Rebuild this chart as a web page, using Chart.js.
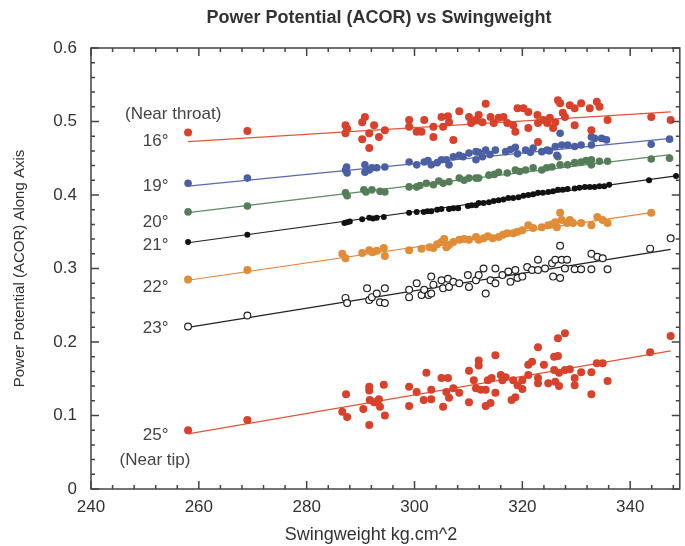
<!DOCTYPE html>
<html>
<head>
<meta charset="utf-8">
<script src="https://cdn.jsdelivr.net/npm/chart.js@4"></script>
<style>
  body { margin: 0; background: #fff; }
  #wrap { width: 685px; height: 546px; }
</style>
</head>
<body>
<div id="wrap"><canvas id="chart" width="685" height="546"></canvas></div>
<script>
// tick labels
const xTicks = [240, 260, 280, 300, 320, 340];
const yTicks = [0, 0.1, 0.2, 0.3, 0.4, 0.5, 0.6];

// series: [swingweight, ACOR]
const deg16 = [[258,0.485],[269,0.487],[287.2,0.495],[287.5,0.49],[287.2,0.484],[290.3,0.499],[290.8,0.506],[292.5,0.495],
  [291.6,0.484],[290.3,0.476],[291.6,0.464],[293.4,0.479],[294.5,0.488],[299,0.502],[299,0.493],[300.4,0.486],[301.8,0.502],
  [301.3,0.486],[303.5,0.493],[303.5,0.479],[305,0.506],[305.3,0.493],[306.2,0.507],[306.4,0.499],[308.3,0.514],[307.2,0.475],
  [310.1,0.506],[310.5,0.498],[311.4,0.502],[313.2,0.524],[311.9,0.509],[312.6,0.499],[314.1,0.506],[314.7,0.498],[315.6,0.505],
  [316.5,0.506],[317.2,0.498],[318.3,0.495],[318.7,0.486],[319.1,0.518],[320.2,0.518],[321.1,0.513],[321.1,0.491],[322.8,0.509],
  [322.9,0.472],[322.9,0.498],[323.9,0.502],[324.6,0.498],[325.1,0.505],[325.7,0.491],[326.1,0.499],[326.6,0.529],[327,0.525],
  [327.5,0.512],[327.9,0.506],[328.8,0.522],[329.7,0.495],[329.7,0.518],[330.9,0.525],[332.5,0.518],[332.8,0.488],[333.8,0.527],
  [334.3,0.52],[335.8,0.502],[343.9,0.506],[347.5,0.502]];
const deg19 = [[258,0.416],[269,0.423],[287.2,0.434],[287.5,0.43],[287.4,0.438],[290.8,0.441],[291.6,0.434],[290.8,0.431],
  [292.1,0.437],[293,0.437],[294.5,0.438],[299,0.445],[300.4,0.441],[301.8,0.445],[302.5,0.447],[303.1,0.441],[304.2,0.444],
  [305,0.448],[305.9,0.448],[306.4,0.441],[307.2,0.452],[308.3,0.454],[309,0.452],[310.1,0.457],[311.4,0.459],[311.4,0.448],
  [311.9,0.458],[312.6,0.452],[313.2,0.461],[314,0.455],[315,0.461],[316.9,0.459],[317.8,0.462],[318.7,0.465],[319.1,0.456],
  [320.6,0.461],[321.5,0.458],[322,0.464],[323.6,0.459],[324.6,0.461],[325,0.46],[326.1,0.466],[326.4,0.454],[327,0.484],
  [327.3,0.468],[328.4,0.468],[329.7,0.466],[330.9,0.468],[332.8,0.479],[332.8,0.468],[333.4,0.477],[334.7,0.477],[335.6,0.475],
  [343.9,0.469],[347.3,0.476]];
const deg20 = [[258,0.377],[269,0.385],[287.2,0.403],[287.5,0.399],[290.6,0.407],[291,0.404],[292.1,0.407],[293.6,0.405],
  [294.5,0.404],[299,0.411],[300.4,0.411],[301,0.413],[302.2,0.416],[303.5,0.414],[304.5,0.419],[305.3,0.416],[306.4,0.418],
  [308.3,0.423],[309.2,0.42],[310.1,0.423],[311.4,0.423],[311.9,0.423],[313.8,0.427],[314.8,0.428],[315.6,0.431],[317.2,0.43],
  [318.7,0.434],[319.5,0.432],[320.6,0.434],[322,0.437],[323.6,0.434],[324.5,0.437],[325.5,0.438],[326.6,0.452],[327,0.441],
  [328.4,0.441],[329.7,0.444],[330.9,0.445],[331.8,0.447],[332.8,0.448],[332.8,0.441],[334.3,0.446],[335.8,0.446],
  [343.9,0.449],[347.3,0.45]];
const deg21 = [[258,0.336],[269,0.346],[287,0.362],[287.5,0.363],[288,0.364],[290.3,0.367],[291.6,0.369],[292.3,0.368],
  [293,0.369],[294.3,0.37],[299,0.376],[300.4,0.377],[301.7,0.377],[302.4,0.378],[303.1,0.378],[304.2,0.38],[305,0.381],
  [306.4,0.381],[307.2,0.382],[308.1,0.382],[309.9,0.385],[310.6,0.386],[311.4,0.386],[311.9,0.389],[312.8,0.389],[313.8,0.39],
  [314.7,0.392],[315.6,0.393],[316.5,0.394],[317.4,0.396],[318.3,0.396],[319.3,0.397],[320.2,0.399],[321.1,0.4],[322,0.401],
  [322.9,0.403],[323.8,0.403],[324.8,0.404],[325.7,0.405],[326.6,0.407],[327.5,0.407],[328.4,0.408],[329.7,0.409],[330.6,0.41],
  [331.6,0.411],[332.5,0.411],[333.4,0.411],[334.3,0.412],[335.2,0.412],[336.1,0.414],[343.5,0.42],[348.5,0.426]];
const deg22 = [[258,0.285],[269,0.298],[286.6,0.32],[287.2,0.314],[290.3,0.321],[291.6,0.325],[292.2,0.322],[293,0.324],
  [294.3,0.328],[294.5,0.317],[299,0.325],[301.3,0.327],[302.8,0.329],[303.5,0.328],[304.2,0.333],[305,0.336],[305.5,0.34],
  [305.9,0.329],[306.4,0.332],[307.2,0.336],[308.3,0.339],[309.2,0.34],[310.1,0.339],[311.4,0.343],[311.9,0.339],[312.8,0.341],
  [313.6,0.344],[314.5,0.341],[315.6,0.343],[316.4,0.346],[317.2,0.348],[318.3,0.348],[319.1,0.35],[320,0.352],[321.1,0.359],
  [322,0.355],[323.6,0.356],[324.8,0.359],[325.5,0.36],[326.1,0.363],[326.4,0.356],[327,0.376],[327.3,0.366],[328.3,0.362],
  [328.8,0.366],[329.4,0.362],[330.9,0.362],[332.8,0.359],[333.9,0.37],[334.9,0.366],[335.8,0.362],[343.9,0.376]];
const deg23 = [[258,0.221],[269,0.236],[287.2,0.26],[287.5,0.253],[291.2,0.273],[291.6,0.257],[292.1,0.261],[293,0.266],
  [293.6,0.254],[294.5,0.273],[294.5,0.253],[299,0.271],[299,0.261],[300.4,0.28],[301.3,0.264],[301.8,0.271],[302.6,0.264],
  [303.1,0.266],[303.1,0.289],[303.5,0.278],[305,0.284],[305.3,0.273],[306.2,0.286],[306.4,0.275],[307.2,0.282],[308.3,0.28],
  [309.9,0.291],[310.1,0.275],[311.4,0.284],[311.9,0.291],[312.8,0.3],[313.2,0.266],[314.1,0.284],[315,0.3],[315,0.28],
  [316.3,0.291],[317.4,0.296],[317.8,0.282],[318.7,0.298],[319.1,0.287],[320,0.289],[320.9,0.302],[321.8,0.298],[322.9,0.312],
  [322.9,0.298],[324.2,0.3],[325.5,0.307],[325.7,0.289],[326.1,0.312],[327,0.331],[327,0.287],[327.3,0.312],[327.9,0.3],
  [328.3,0.312],[329.7,0.299],[330.9,0.299],[332.8,0.32],[332.8,0.299],[333.9,0.316],[334.9,0.314],[335.8,0.299],
  [343.7,0.327],[347.5,0.341]];
const deg25 = [[258,0.08],[269,0.094],[287.3,0.129],[286.6,0.105],[287.5,0.098],[290.5,0.109],[291.6,0.139],[291.6,0.134],
  [291.7,0.121],[291.6,0.087],[292.5,0.118],[293.4,0.122],[293.6,0.112],[294.3,0.142],[294.5,0.1],[299,0.139],[299,0.113],
  [300.4,0.132],[301.7,0.121],[302.2,0.158],[303.1,0.135],[303.1,0.122],[305,0.151],[305.3,0.112],[306.2,0.151],[305.9,0.132],
  [306.4,0.124],[307.2,0.137],[308.3,0.131],[310.1,0.161],[310.1,0.118],[311,0.148],[311.4,0.137],[311.9,0.175],[311.9,0.168],
  [312.3,0.135],[313.2,0.135],[313.2,0.113],[313.6,0.148],[314.1,0.117],[314.3,0.151],[315,0.182],[315,0.131],[316,0.155],
  [316.3,0.148],[316.9,0.152],[318,0.121],[318.3,0.148],[318.7,0.125],[319.1,0.141],[320,0.148],[320,0.136],[321.1,0.155],
  [321.1,0.169],[321.8,0.173],[322.9,0.193],[322.9,0.151],[322.9,0.144],[324,0.169],[324.8,0.144],[325.9,0.18],[325.9,0.162],
  [326.1,0.146],[326.6,0.205],[326.6,0.181],[326.8,0.158],[326.8,0.14],[327.9,0.212],[327.9,0.162],[328.8,0.163],[329.7,0.151],
  [329.7,0.141],[330.9,0.159],[332.8,0.159],[332.8,0.129],[333.8,0.171],[334.9,0.171],[335.8,0.147],[343.7,0.186],[347.5,0.208]];

// fitted lines: [x, y] at start and end
const fit16 = [[258,0.4725],[347.5,0.513]];
const fit19 = [[258,0.412],[347.5,0.477]];
const fit20 = [[258,0.376],[347.5,0.455]];
const fit21 = [[258,0.335],[348.5,0.426]];
const fit22 = [[258,0.284],[343.9,0.376]];
const fit23 = [[258,0.22],[347.5,0.326]];
const fit25 = [[258,0.075],[347.5,0.188]];

// text labels inside the plot
const noteText = ['(Near throat)', '16°', '19°', '20°', '21°', '22°', '23°', '25°', '(Near tip)'];
const noteX = [246.3, 249.6, 249.6, 249.6, 249.6, 249.6, 249.6, 249.6, 245.3];
const noteY = [0.510, 0.473, 0.412, 0.363, 0.331, 0.275, 0.219, 0.073, 0.039];

const pts = arr => arr.map(p => ({ x: p[0], y: p[1] }));

function dots(data, color, r, open) {
  return {
    type: 'scatter',
    data: pts(data),
    pointRadius: r,
    pointBackgroundColor: open ? '#fff' : color,
    pointBorderColor: color,
    pointBorderWidth: open ? 1.2 : 0,
    order: 0
  };
}

function fitLine(data, color) {
  return {
    type: 'line',
    data: pts(data),
    borderColor: color,
    borderWidth: 1.2,
    pointRadius: 0,
    order: 1
  };
}

const decor = {
  id: 'decor',
  afterDatasetsDraw(chart) {
    const { ctx, chartArea: a, scales: { x, y } } = chart;
    ctx.save();
    ctx.strokeStyle = '#444';
    ctx.lineWidth = 1.5;
    ctx.strokeRect(a.left, a.top, a.right - a.left, a.bottom - a.top);

    ctx.beginPath();
    for (let v = 240; v <= x.max; v += 4) {
      const px = x.getPixelForValue(v);
      const len = (v - 240) % 20 === 0 ? 8 : 4;
      ctx.moveTo(px, a.bottom); ctx.lineTo(px, a.bottom - len);
      ctx.moveTo(px, a.top); ctx.lineTo(px, a.top + len);
    }
    for (let i = 0; i <= 30; i++) {
      const py = y.getPixelForValue(i * 0.02);
      const len = i % 5 === 0 ? 8 : 4;
      ctx.moveTo(a.left, py); ctx.lineTo(a.left + len, py);
      ctx.moveTo(a.right, py); ctx.lineTo(a.right - len, py);
    }
    ctx.stroke();

    ctx.fillStyle = '#333';
    ctx.textBaseline = 'middle';
    ctx.textAlign = 'center';
    ctx.font = 'bold 18px "Liberation Sans", Arial, sans-serif';
    ctx.fillText('Power Potential (ACOR) vs Swingweight', 379, 18);
    ctx.font = '18px "Liberation Sans", Arial, sans-serif';
    ctx.fillText('Swingweight kg.cm^2', 371, 535);

    ctx.save();
    ctx.translate(20, (a.top + a.bottom) / 2);
    ctx.rotate(-Math.PI / 2);
    ctx.font = '15px "Liberation Sans", Arial, sans-serif';
    ctx.fillText('Power Potential (ACOR) Along Axis', 0, 0);
    ctx.restore();

    ctx.textAlign = 'left';
    ctx.font = '17px "Liberation Sans", Arial, sans-serif';
    ctx.fillStyle = '#444';
    noteText.forEach((t, i) => {
      ctx.fillText(t, x.getPixelForValue(noteX[i]), y.getPixelForValue(noteY[i]));
    });
    ctx.restore();
  }
};

const ctx = document.getElementById('chart').getContext('2d');
new Chart(ctx, {
  data: {
    datasets: [
      fitLine(fit16, '#e0553a'),
      fitLine(fit19, '#5a68ad'),
      fitLine(fit20, '#5f8a63'),
      fitLine(fit21, '#222'),
      fitLine(fit22, '#e8843a'),
      fitLine(fit23, '#222'),
      fitLine(fit25, '#e0553a'),
      dots(deg16, '#d9412b', 4),
      dots(deg19, '#4b5fa5', 3.8),
      dots(deg20, '#557d5a', 3.8),
      dots(deg21, '#111', 3),
      dots(deg22, '#e18c37', 4),
      dots(deg23, '#222', 3.4, true),
      dots(deg25, '#d9412b', 4)
    ]
  },
  options: {
    responsive: false,
    animation: false,
    devicePixelRatio: 1,
    layout: { padding: { top: 48, right: 1, left: 0, bottom: 0 } },
    plugins: { legend: { display: false }, tooltip: { enabled: false }, title: { display: false } },
    scales: {
      x: {
        type: 'linear',
        min: 240,
        max: 349.2,
        afterBuildTicks: s => { s.ticks = xTicks.map(v => ({ value: v })); },
        afterFit: s => { s.height = 57; },
        grid: { display: false, drawTicks: false },
        border: { display: false },
        ticks: {
          color: '#333',
          padding: 8,
          maxRotation: 0,
          font: { family: '"Liberation Sans", Arial, sans-serif', size: 17 }
        }
      },
      y: {
        type: 'linear',
        min: 0,
        max: 0.6,
        afterBuildTicks: s => { s.ticks = yTicks.map(v => ({ value: v })); },
        afterFit: s => { s.width = 91; },
        grid: { display: false, drawTicks: false },
        border: { display: false },
        ticks: {
          color: '#333',
          padding: 14,
          font: { family: '"Liberation Sans", Arial, sans-serif', size: 17 },
          callback: v => (v === 0 ? '0' : v.toFixed(1))
        }
      }
    }
  },
  plugins: [decor]
});
</script>
</body>
</html>
